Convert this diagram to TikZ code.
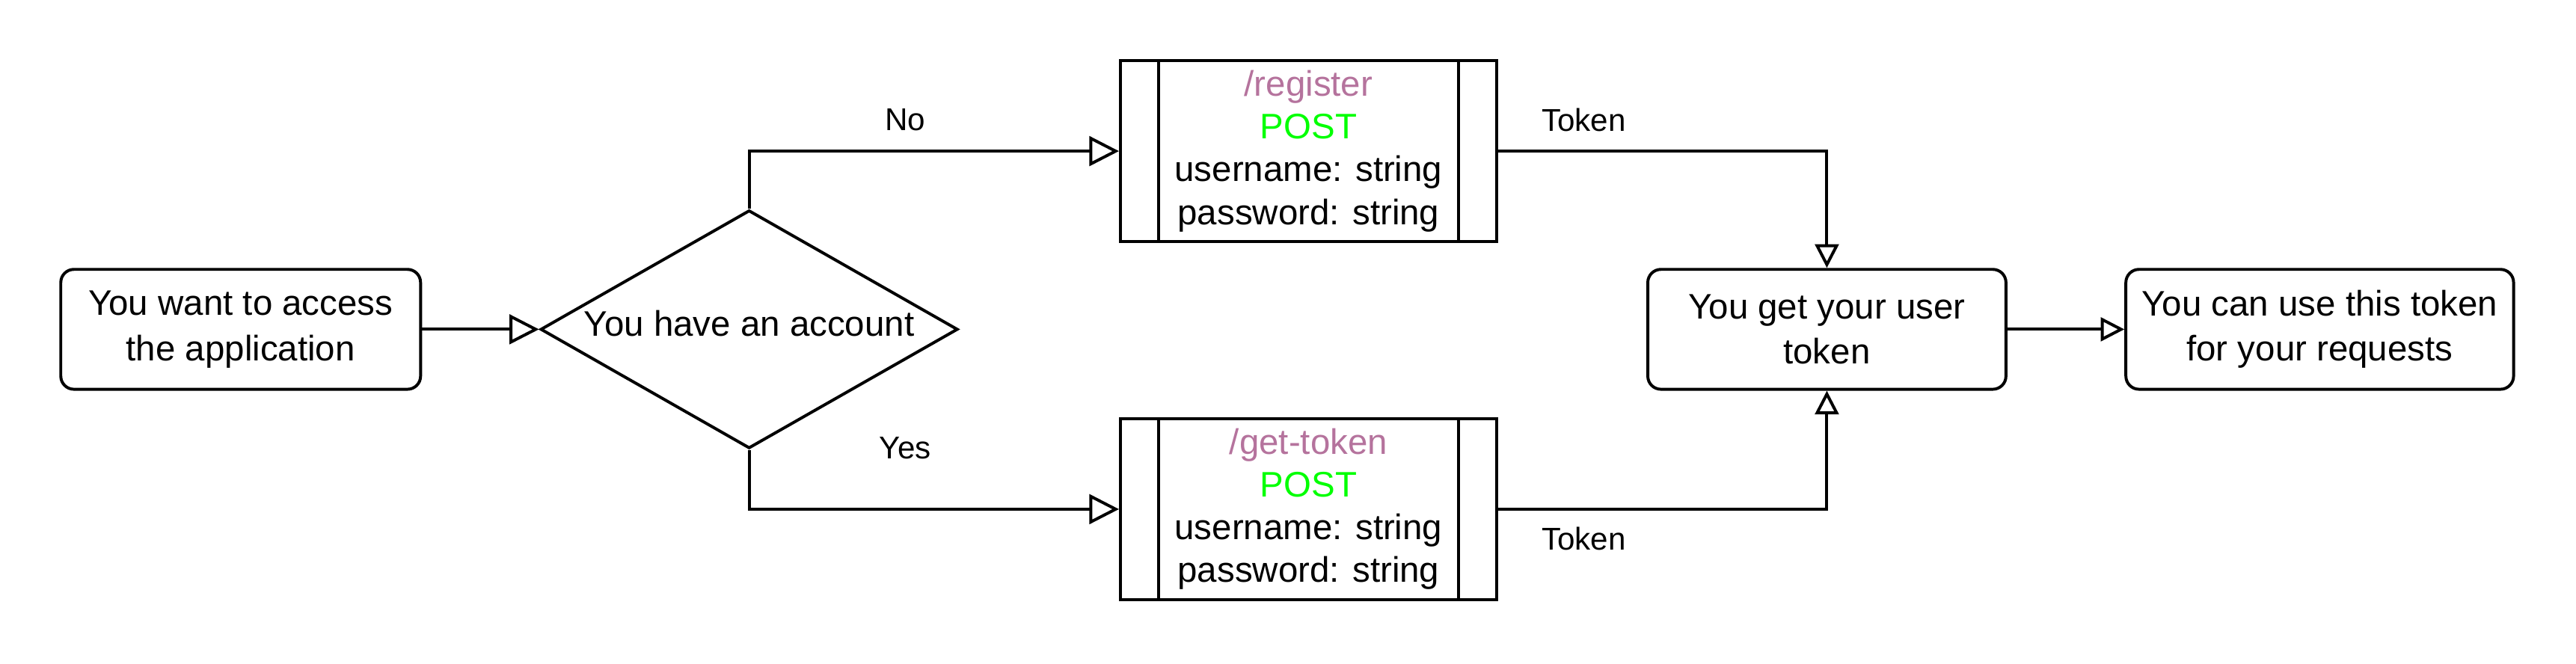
\documentclass[tikz,border=0pt]{standalone}
\usepackage{fontspec}
\setmainfont{Liberation Sans}
\usetikzlibrary{arrows.meta,shapes.geometric}
\definecolor{routepink}{HTML}{B5739D}
\definecolor{postgreen}{HTML}{00FF00}
\tikzset{
  stepbox/.style={draw, rounded corners=4pt, minimum height=36.5pt, align=center, inner sep=0pt, font=\fontsize{10.8}{13.8}\selectfont},
  callbox/.style={draw, minimum width=114.5pt, minimum height=55pt, align=center, inner sep=0pt, font=\fontsize{10.8}{13}\selectfont},
  askbox/.style={draw, diamond, minimum width=127pt, minimum height=72.5pt, inner sep=0pt, font=\fontsize{10.8}{13}\selectfont},
  tag/.style={font=\fontsize{9.6}{11}\selectfont},
  flow/.style={-{Triangle[open,length=9pt,width=9pt]}},
  flowsmall/.style={-{Triangle[open,length=7.2pt,width=7.2pt]}},
}
\begin{document}
\begin{tikzpicture}[x=0.5pt, y=-0.5pt, line width=0.9pt]
    \useasboundingbox (0,0) rectangle (1568,404);
    % Start, question and the two calls
    \node[stepbox, minimum width=109.5pt] (want) at (146.5,200.5) {You want to access\\the application};
    \node[askbox] (acct) at (456,200.5) {\raisebox{3.5pt}{\makebox[0pt]{You have an account}}};
    \node[callbox] (reg) at (796.5,92) {{\color{routepink}/register}\\{\color{postgreen}POST}\\username: string\\password: string};
    \node[callbox] (gtk) at (796.5,310) {{\color{routepink}/get-token}\\{\color{postgreen}POST}\\username: string\\password: string};
    \foreach \n in {reg,gtk} {
        \draw ([xshift=12pt]\n.north west) -- ([xshift=12pt]\n.south west);
        \draw ([xshift=-12pt]\n.north east) -- ([xshift=-12pt]\n.south east);
    }
    % Result boxes
    \node[stepbox, minimum width=109pt] (tok) at (1112,200.5) {You get your user\\token};
    \node[stepbox, minimum width=118pt] (use) at (1412,200.5) {You can use this token\\for your requests};
    % Connectors
    \draw[flow] (want) -- (acct);
    \draw[flow] (acct.north) |- (reg);
    \draw[flow] (acct.south) |- (gtk);
    \draw[flowsmall] (reg.east) -| (tok.north);
    \draw[flowsmall] (gtk.east) -| (tok.south);
    \draw[flowsmall] (tok) -- (use);
    % Labels
    \node[tag] (no) at (551,73) {No};
    \node[tag] (yes) at (551,273) {Yes};
    \node[tag] (tokup) at (964,73) {Token};
    \node[tag] (tokdown) at (964,328) {Token};
\end{tikzpicture}
\end{document}
